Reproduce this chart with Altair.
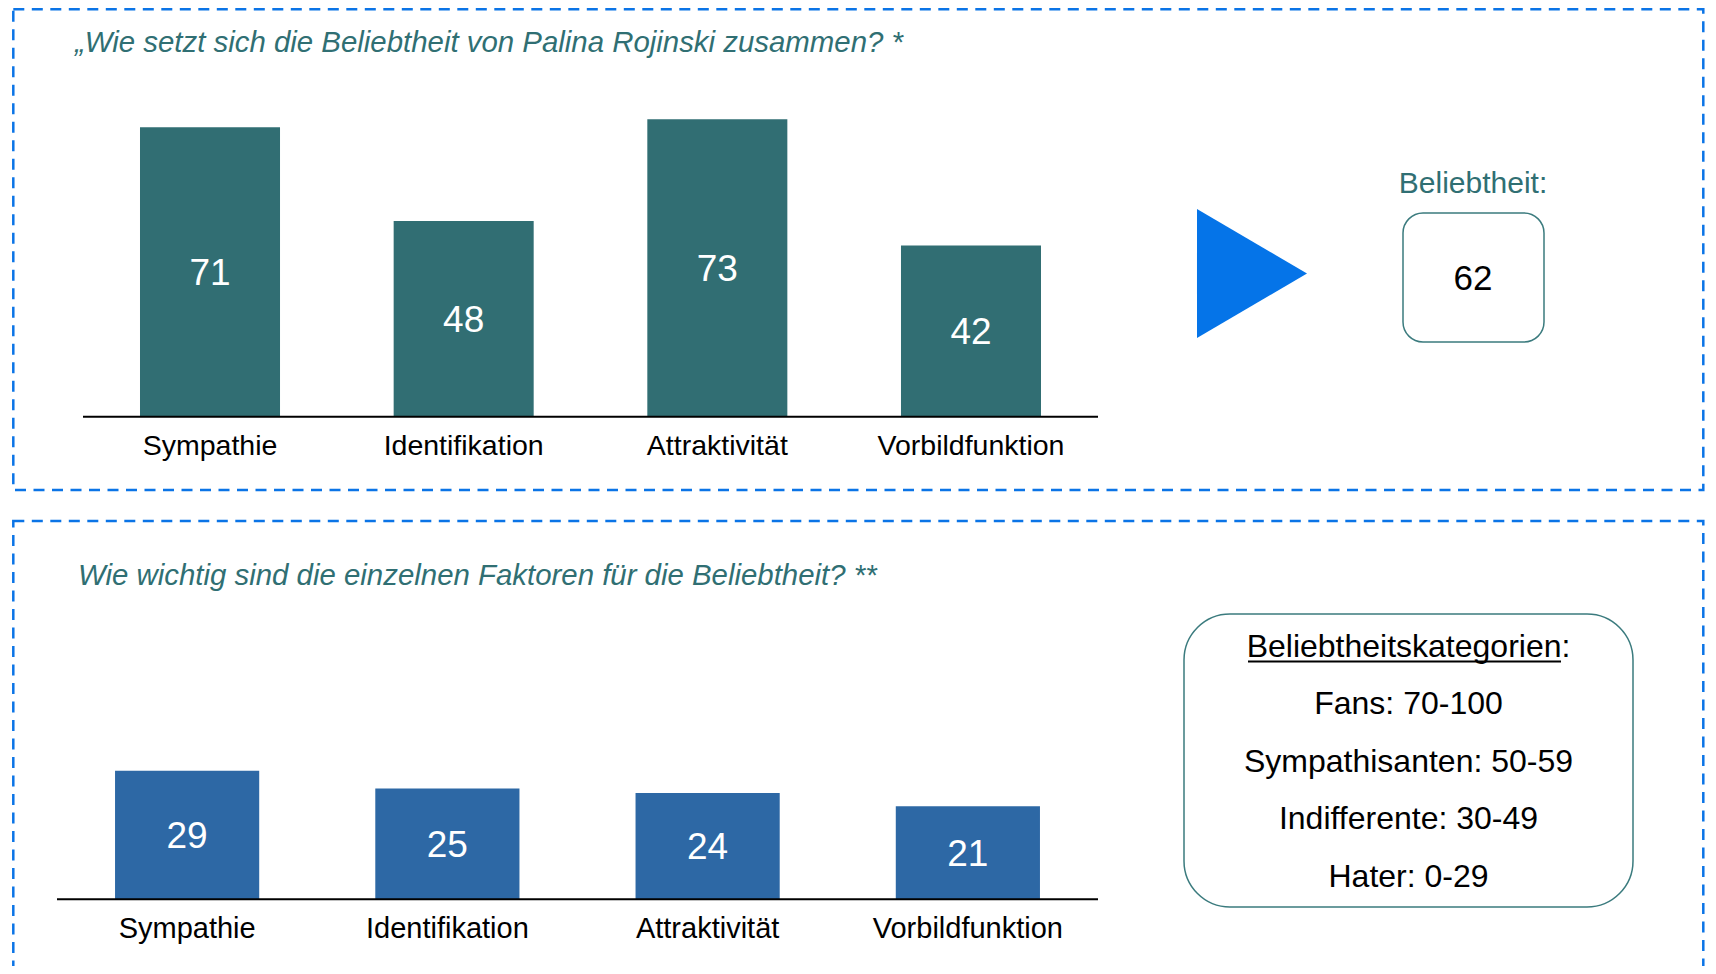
import altair as alt
import pandas as pd

# ---------------- data ----------------
factors = ["Sympathie", "Identifikation", "Attraktivität", "Vorbildfunktion"]
popularity = [71, 48, 73, 42]          # upper chart
importance = [29, 25, 24, 21]          # lower chart
overall_label = "Beliebtheit:"
overall_value = 62
title_top = "\u201eWie setzt sich die Beliebtheit von Palina Rojinski zusammen? *"
title_bottom = "Wie wichtig sind die einzelnen Faktoren f\u00fcr die Beliebtheit? **"
cat_heading = "Beliebtheitskategorien:"
cat_lines = ["Fans: 70-100", "Sympathisanten: 50-59", "Indifferente: 30-49", "Hater: 0-29"]

FONT = "Liberation Sans"
TEAL = "#306f73"
TEAL_BAR = "#316e73"
BLUE_BAR = "#2d68a5"
DASH_BLUE = "#0b74e6"
ARROW_BLUE = "#0574e8"

top_df = pd.DataFrame({"factor": factors, "value": popularity})
bot_df = pd.DataFrame({"factor": factors, "value": importance})


def bar_group(df, x_range, p_inner, p_outer, y_range, color, label_y, label_size):
    xs = alt.Scale(domain=factors, range=x_range, paddingInner=p_inner, paddingOuter=p_outer)
    ys = alt.Scale(domain=[0, 100], range=y_range, nice=False, zero=True)
    x = alt.X("factor:N", sort=factors, scale=xs, axis=None)
    base = alt.Chart(df)
    bars = base.mark_bar(color=color).encode(
        x=x, y=alt.Y("value:Q", scale=ys, axis=None))
    vals = base.transform_calculate(mid="datum.value / 2").mark_text(
        font=FONT, fontSize=37, color="white", baseline="middle", dy=2
    ).encode(x=x, y=alt.Y("mid:Q", scale=ys, axis=None), text="value:Q")
    labels = base.mark_text(
        font=FONT, fontSize=label_size, color="black", baseline="alphabetic"
    ).encode(x=x, y=alt.value(label_y), text="factor:N")
    axis_line = alt.Chart(pd.DataFrame({"zero": [0]})).mark_rule(
        color="black", strokeWidth=2
    ).encode(y=alt.Y("zero:Q", scale=ys, axis=None),
             x=alt.value(x_range[0]), x2=alt.value(x_range[1]))
    return alt.layer(bars, vals, labels, axis_line)


top_group = bar_group(top_df, [75, 1090], 0.448, 0.2247, [408.7, 1.1], TEAL_BAR, 447, 28.5)
bot_group = bar_group(bot_df, [49, 1090], 0.446, 0.223, [891.3, 448.3], BLUE_BAR, 930, 29)

one = pd.DataFrame({"k": [0]})


def text_layer(txt, x, y, size, color="black", align="center", style="normal"):
    return alt.Chart(pd.DataFrame({"t": [txt]})).mark_text(
        font=FONT, fontSize=size, color=color, align=align, baseline="alphabetic",
        fontStyle=style
    ).encode(text="t:N", x=alt.value(x), y=alt.value(y))


def box(x1, x2, y1, y2, **kw):
    return alt.Chart(one).mark_rect(fillOpacity=0, **kw).encode(
        x=alt.value(x1), x2=alt.value(x2), y=alt.value(y1), y2=alt.value(y2))


layers = [
    box(5.3, 1695.3, 1.3, 482, stroke=DASH_BLUE, strokeWidth=2.5, strokeDash=[11, 7.5]),
    box(5.3, 1695.3, 513, 1000, stroke=DASH_BLUE, strokeWidth=2.5, strokeDash=[11, 7.5]),
    top_group,
    bot_group,
    text_layer(title_top, 67, 43.7, 29.4, TEAL, "left", "italic"),
    text_layer(title_bottom, 70, 577, 29.4, TEAL, "left", "italic"),
    # arrow
    alt.Chart(one).mark_point(
        shape="M-0.853,-1L0.853,0L-0.853,1Z", filled=True, opacity=1,
        color=ARROW_BLUE, strokeWidth=0, size=129 * 129
    ).encode(x=alt.value(1244), y=alt.value(265.5)),
    # overall value box
    box(1395, 1536, 205, 334, stroke="#3b7b7e", strokeWidth=1.5, cornerRadius=20),
    text_layer(overall_label, 1465, 185.3, 30, TEAL),
    text_layer(str(overall_value), 1465, 282, 35, "black"),
    # category box
    box(1176, 1625, 606, 899, stroke="#3b7b7e", strokeWidth=1.5, cornerRadius=46),
    text_layer(cat_heading, 1400.5, 648.7, 32, "black"),
    alt.Chart(one).mark_rule(color="black", strokeWidth=1.8).encode(
        x=alt.value(1240), x2=alt.value(1553), y=alt.value(653.5)),
]
for i, line in enumerate(cat_lines):
    layers.append(text_layer(line, 1400.5, 706 + i * 57.5, 32, "black"))

chart = alt.layer(*layers).resolve_scale(
    x="independent", y="independent"
).properties(
    width=1700, height=958, padding=0, autosize="none"
).configure_view(stroke=None)

chart.save("out.html", embed_options={"renderer": "svg", "actions": False})
